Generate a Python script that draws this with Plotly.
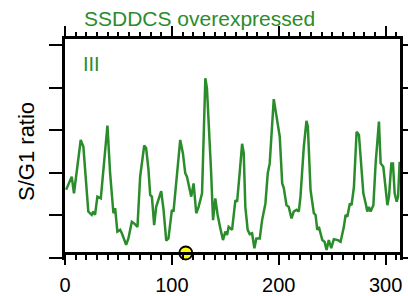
import plotly.graph_objects as go

# S/G1 ratio profile (position, value in tick units)
pos = [1.0, 4.7, 6.3, 8.4, 11.0, 14.7, 17.2, 21.8, 25.0, 26.5, 28.1, 30.3, 33.5, 35.9, 39.7,
       42.2, 45.3, 46.9, 49.0, 51.6, 53.2, 57.2, 59.3, 62.5, 64.7, 67.8, 70.3, 74.1, 75.9,
       78.1, 79.7, 81.3, 83.4, 85.3, 90.0, 92.2, 94.7, 96.8, 100.0, 101.5, 104.1, 107.8,
       110.3, 112.5, 114.1, 116.5, 118.1, 120.3, 122.8, 125.0, 128.2, 131.3, 132.8, 136.6,
       138.5, 140.6, 142.8, 145.3, 147.8, 150.0, 151.6, 153.1, 156.3, 159.4, 161.0, 163.4,
       165.7, 167.2, 168.7, 170.9, 172.8, 175.0, 177.2, 179.0, 182.2, 184.4, 187.5, 189.7,
       191.5, 195.3, 197.8, 200.9, 203.2, 204.7, 207.2, 209.3, 211.9, 214.0, 216.6, 218.7,
       220.3, 223.4, 225.9, 227.2, 229.7, 232.8, 234.4, 236.0, 237.5, 240.7, 242.8, 244.7,
       246.8, 249.1, 251.5, 255.3, 257.8, 260.9, 262.5, 264.1, 266.5, 268.1, 270.3, 272.8,
       275.0, 277.2, 279.1, 281.3, 282.8, 284.3, 285.9, 288.5, 290.6, 293.7, 295.3, 297.8,
       299.3, 301.6, 303.1, 305.3, 306.8, 308.4, 310.3, 311.6, 313.1]
ratio = [1.60, 1.79, 1.91, 1.52, 2.07, 2.77, 2.61, 1.09, 1.01, 1.09, 1.01, 1.44, 1.40, 2.14, 3.11,
         1.99, 1.05, 1.17, 0.62, 0.66, 0.58, 0.31, 0.46, 0.85, 0.81, 0.73, 1.91, 2.64, 2.58,
         2.07, 1.48, 1.44, 0.77, 1.20, 1.57, 1.13, 0.41, 0.46, 1.13, 1.09, 1.75, 2.77,
         2.46, 1.99, 1.91, 1.60, 1.44, 1.75, 1.05, 1.20, 1.52, 4.22, 3.98, 2.07,
         0.89, 1.40, 1.01, 0.70, 0.42, 0.62, 0.54, 0.73, 0.66, 1.36, 1.32, 1.99,
         2.68, 2.46, 1.20, 0.66, 0.56, 0.58, 0.23, 0.46, 0.46, 0.89, 1.28, 1.99,
         2.22, 3.73, 3.32, 2.85, 1.75, 1.64, 1.24, 1.20, 0.93, 1.09, 1.13, 1.09,
         1.44, 2.61, 3.22, 3.08, 1.60, 1.05, 1.01, 0.66, 0.73, 0.42, 0.38, 0.19,
         0.42, 0.23, 0.44, 0.42, 0.38, 0.73, 1.01, 0.97, 1.28, 1.24, 1.67, 2.96,
         2.89, 2.22, 1.52, 1.28, 1.09, 1.20, 1.09, 1.24, 2.22, 3.20, 2.22, 2.14,
         1.71, 1.24, 1.44, 2.22, 2.22, 1.52, 1.32, 1.44, 2.26]

marker_pos = [113]
marker_val = [0.117]

x_ticks = [0, 100, 200, 300]
x_tick_labels = ["0", "100", "200", "300"]
y_ticks = [0, 1, 2, 3, 4, 5]

GREEN = "#2b8c2b"
FONT = "Liberation Sans, Arial, Helvetica, sans-serif"

fig = go.Figure()
fig.add_trace(go.Scatter(x=pos, y=ratio, mode="lines", xaxis="x2", yaxis="y",
                         line=dict(color=GREEN, width=2.5), showlegend=False, hoverinfo="skip"))
fig.add_trace(go.Scatter(x=marker_pos, y=marker_val, mode="markers", cliponaxis=False,
                         xaxis="x", yaxis="y",
                         marker=dict(color="#ffff00", size=13, line=dict(color="black", width=1.8)),
                         showlegend=False, hoverinfo="skip"))

XR = [0, 313.4]
fig.update_layout(
    width=408, height=296,
    margin=dict(l=65, r=8, t=39, b=36),
    plot_bgcolor="white", paper_bgcolor="white",
    font=dict(family=FONT, color="black"),
    xaxis=dict(range=XR, anchor="free", position=7/221, showline=True, linecolor="black",
               linewidth=3, ticks="outside", ticklen=10, tickwidth=2, tickcolor="black",
               tickvals=x_ticks, ticktext=x_tick_labels, tickfont=dict(size=20),
               ticklabelstandoff=3,
               minor=dict(ticks="outside", dtick=10, tick0=0, ticklen=5, tickwidth=1.5, tickcolor="black"),
               showgrid=False, zeroline=False, automargin=False),
    xaxis2=dict(range=XR, overlaying="x", side="top", anchor="y", showline=True, linecolor="black",
                linewidth=3, ticks="outside", ticklen=10, tickwidth=2, tickcolor="black",
                tickvals=x_ticks, showticklabels=False,
                minor=dict(ticks="outside", dtick=10, tick0=0, ticklen=4, tickwidth=1.5, tickcolor="black"),
                showgrid=False, zeroline=False, automargin=False),
    yaxis=dict(range=[-0.047, 5.14], showline=True, linecolor="black", linewidth=2.5, mirror="ticks",
               ticks="outside", ticklen=13, tickwidth=2, tickcolor="black", tickvals=y_ticks,
               showticklabels=False, showgrid=False, zeroline=False, automargin=False),
    annotations=[
        dict(text="SSDDCS overexpressed", xref="paper", yref="paper", x=0.4, y=1.095,
             xanchor="center", yanchor="middle", showarrow=False, font=dict(size=21, color=GREEN)),
        dict(text="III", xref="paper", yref="paper", x=0.079, y=0.887,
             xanchor="center", yanchor="middle", showarrow=False, font=dict(size=20, color=GREEN)),
        dict(text="S/G1 ratio", xref="paper", yref="paper", x=-0.1134, y=0.489, textangle=-90,
             xanchor="center", yanchor="middle", showarrow=False, font=dict(size=22, color="black")),
    ],
)

fig.write_html("out.html", config={"displayModeBar": False},
               post_script="document.body.style.margin='0px';document.body.style.overflow='hidden';")
